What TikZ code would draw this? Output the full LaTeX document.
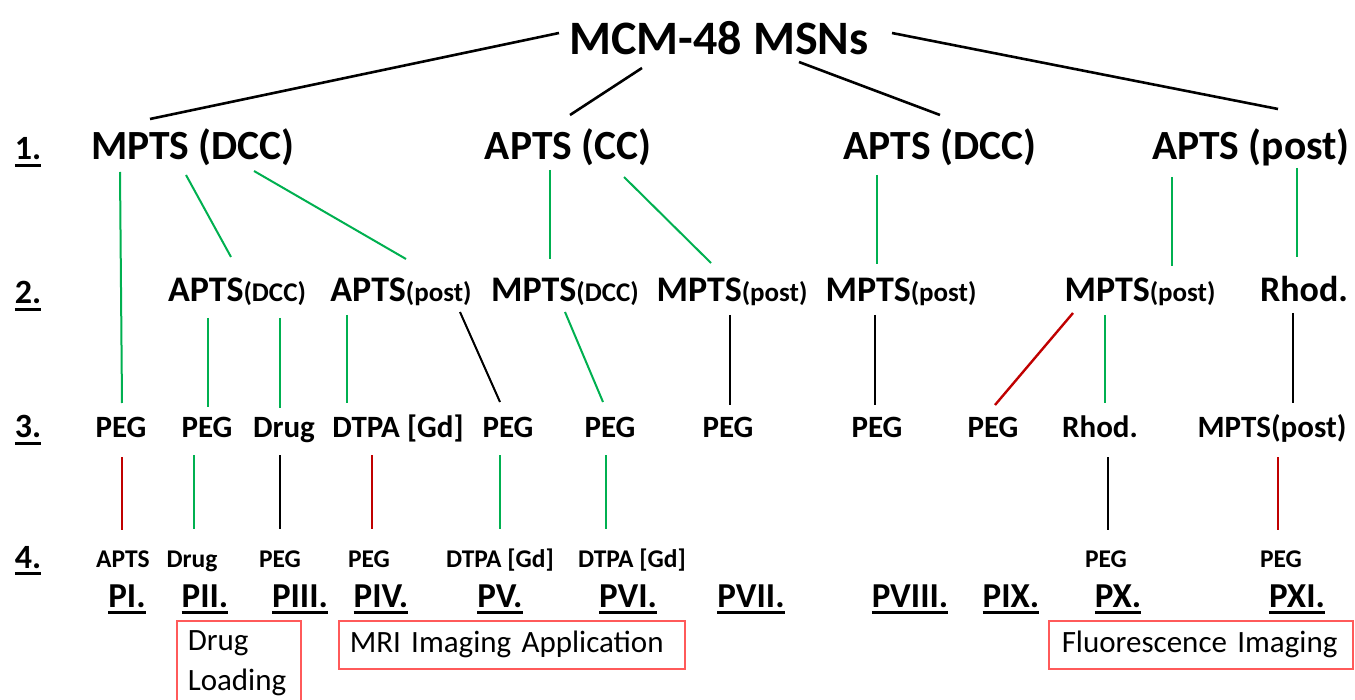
\documentclass[tikz,border=0pt]{standalone}
\usepackage{fontspec}
\setmainfont{Carlito}
\definecolor{linkgreen}{RGB}{0,176,80}
\definecolor{linkred}{RGB}{192,0,0}
\definecolor{boxred}{RGB}{255,90,90}
\newcommand{\subtag}[1]{{\fontsize{27}{30}\selectfont #1}}
\newsavebox{\ulbox}
\newcommand{\uln}[1]{\sbox\ulbox{#1}\rlap{\rule[-7pt]{\wd\ulbox}{3pt}}\usebox\ulbox}
\begin{document}
\begin{tikzpicture}[
  x=1pt, y=-1pt,
  every node/.style={inner sep=0pt, anchor=base},
  rootlbl/.style={font=\bfseries\fontsize{48}{56}\selectfont},
  lvlone/.style={font=\bfseries\fontsize{41.5}{48}\selectfont},
  lvltwo/.style={font=\bfseries\fontsize{36}{42}\selectfont},
  lvlthree/.style={font=\bfseries\fontsize{31}{36}\selectfont},
  lvlfour/.style={font=\bfseries\fontsize{25.5}{30}\selectfont},
  pname/.style={font=\bfseries\fontsize{35}{40}\selectfont},
  levelno/.style={font=\bfseries\fontsize{34}{40}\selectfont},
  appbox/.style={draw=boxred, line width=1.5pt, anchor=north west, align=left,
    font=\fontsize{31}{40}\selectfont},
  rootlink/.style={draw=black, line width=2.6pt},
  blk/.style={draw=black, line width=2pt},
  grn/.style={draw=linkgreen, line width=2pt},
  rd/.style={draw=linkred, line width=2.4pt}
]
\useasboundingbox (0,0) rectangle (1355,700);

% level numbers
\node[levelno] (n1) at (28,160) {\uln{1.}};
\node[levelno] (n2) at (28,304) {\uln{2.}};
\node[levelno] (n3) at (28,438) {\uln{3.}};
\node[levelno] (n4) at (28,568) {\uln{4.}};

% root
\node[rootlbl] (msn) at (719,55) {MCM-48 MSNs};

% 1. first grafting
\node[lvlone] (a1) at (193,160) {MPTS (DCC)};
\node[lvlone] (a2) at (568,160) {APTS (CC)};
\node[lvlone] (a3) at (940,160) {APTS (DCC)};
\node[lvlone] (a4) at (1251,160) {APTS (post)};

% 2. second grafting
\node[lvltwo] (b1) at (237,302) {APTS\subtag{(DCC)}};
\node[lvltwo] (b2) at (401,302) {APTS\subtag{(post)}};
\node[lvltwo] (b3) at (565,302) {MPTS\subtag{(DCC)}};
\node[lvltwo] (b4) at (732,302) {MPTS\subtag{(post)}};
\node[lvltwo] (b5) at (901,302) {MPTS\subtag{(post)}};
\node[lvltwo] (b6) at (1140,302) {MPTS\subtag{(post)}};
\node[lvltwo] (b7) at (1304,302) {Rhod.};

% 3. third step
\node[lvlthree] (c1) at (121,438) {PEG};
\node[lvlthree] (c2) at (207,438) {PEG};
\node[lvlthree] (c3) at (284,438) {Drug};
\node[lvlthree] (c4) at (398,438) {DTPA [Gd]};
\node[lvlthree] (c5) at (508,438) {PEG};
\node[lvlthree] (c6) at (610,438) {PEG};
\node[lvlthree] (c7) at (728,438) {PEG};
\node[lvlthree] (c8) at (877,438) {PEG};
\node[lvlthree] (c9) at (993,438) {PEG};
\node[lvlthree] (c10) at (1100,438) {Rhod.};
\node[lvlthree] (c11) at (1272,438) {MPTS(post)};

% 4. fourth step
\node[lvlfour] (d1) at (123,567) {APTS};
\node[lvlfour] (d2) at (192,567) {Drug};
\node[lvlfour] (d3) at (280,567) {PEG};
\node[lvlfour] (d4) at (369,567) {PEG};
\node[lvlfour] (d5) at (500,567) {DTPA [Gd]};
\node[lvlfour] (d6) at (632,567) {DTPA [Gd]};
\node[lvlfour] (d10) at (1106,567) {PEG};
\node[lvlfour] (d11) at (1281,567) {PEG};

% products
\node[pname] (p1) at (127,607) {\uln{PI.}};
\node[pname] (p2) at (205,607) {\uln{PII.}};
\node[pname] (p3) at (300,607) {\uln{PIII.}};
\node[pname] (p4) at (381,607) {\uln{PIV.}};
\node[pname] (p5) at (500,607) {\uln{PV.}};
\node[pname] (p6) at (628,607) {\uln{PVI.}};
\node[pname] (p7) at (751,607) {\uln{PVII.}};
\node[pname] (p8) at (910,607) {\uln{PVIII.}};
\node[pname] (p9) at (1011,607) {\uln{PIX.}};
\node[pname] (p10) at (1118,607) {\uln{PX.}};
\node[pname] (p11) at (1297,607) {\uln{PXI.}};

% applications
\node[appbox, inner xsep=11pt, inner ysep=10pt, text width=102pt] (drug) at (176,620) {Drug\\Loading};
\node[appbox, inner xsep=11pt, inner ysep=0pt, text width=324pt, minimum height=48pt] (mri) at (338,620) {\mbox{MRI Imaging Application}};
\node[appbox, inner xsep=13pt, inner ysep=0pt, text width=278pt, minimum height=48pt] (fluo) at (1048,620) {\mbox{Fluorescence Imaging}};

% root links
\draw[rootlink] ([shift={(-160,-22)}]msn.base) -- ([shift={(-43,-41)}]a1.base);
\draw[rootlink] ([shift={(-77,13)}]msn.base) -- ([shift={(2,-45)}]a2.base);
\draw[rootlink] ([shift={(80,7)}]msn.base) -- ([shift={(0,-45)}]a3.base);
\draw[rootlink] ([shift={(173,-22)}]msn.base) -- ([shift={(27,-51)}]a4.base);

% level 1 to 2
\draw[grn] ([shift={(-73,12)}]a1.base) -- ([shift={(1,-35)}]c1.base);
\draw[grn] ([shift={(-7,15)}]a1.base) -- ([shift={(-6,-45)}]b1.base);
\draw[grn] ([shift={(61,11)}]a1.base) -- ([shift={(5,-43)}]b2.base);
\draw[grn] ([shift={(-18,10)}]a2.base) -- ([shift={(-15,-43)}]b3.base);
\draw[grn] ([shift={(56,17)}]a2.base) -- ([shift={(-21,-39)}]b4.base);
\draw[grn] ([shift={(-63,15)}]a3.base) -- ([shift={(-24,-38)}]b5.base);
\draw[grn] ([shift={(-79,17)}]a4.base) -- ([shift={(32,-36)}]b6.base);
\draw[grn] ([shift={(46,8)}]a4.base) -- ([shift={(-7,-45)}]b7.base);

% level 2 to 3
\draw[grn] ([shift={(-29,16)}]b1.base) -- ([shift={(1,-31)}]c2.base);
\draw[grn] ([shift={(43,16)}]b1.base) -- ([shift={(-4,-30)}]c3.base);
\draw[grn] ([shift={(-54,13)}]b2.base) -- ([shift={(-51,-35)}]c4.base);
\draw[blk] ([shift={(59,10)}]b2.base) -- ([shift={(-8,-36)}]c5.base);
\draw[grn] ([shift={(0,10)}]b3.base) -- ([shift={(-7,-36)}]c6.base);
\draw[blk] ([shift={(-2,13)}]b4.base) -- ([shift={(2,-33)}]c7.base);
\draw[blk] ([shift={(-26,13)}]b5.base) -- ([shift={(-2,-33)}]c8.base);
\draw[rd] ([shift={(-67,11)}]b6.base) -- ([shift={(2,-33)}]c9.base);
\draw[grn] ([shift={(-35,13)}]b6.base) -- ([shift={(5,-35)}]c10.base);
\draw[blk] ([shift={(-11,11)}]b7.base) -- ([shift={(21,-35)}]c11.base);

% level 3 to 4
\draw[rd] ([shift={(1,19)}]c1.base) -- ([shift={(-1,-37)}]d1.base);
\draw[grn] ([shift={(-13,17)}]c2.base) -- ([shift={(2,-38)}]d2.base);
\draw[blk] ([shift={(-4,17)}]c3.base) -- ([shift={(0,-38)}]d3.base);
\draw[rd] ([shift={(-26,17)}]c4.base) -- ([shift={(3,-38)}]d4.base);
\draw[grn] ([shift={(-8,17)}]c5.base) -- ([shift={(0,-38)}]d5.base);
\draw[grn] ([shift={(-4,17)}]c6.base) -- ([shift={(-26,-38)}]d6.base);
\draw[blk] ([shift={(8,19)}]c10.base) -- ([shift={(2,-37)}]d10.base);
\draw[rd] ([shift={(6,19)}]c11.base) -- ([shift={(-3,-37)}]d11.base);
\end{tikzpicture}
\end{document}
